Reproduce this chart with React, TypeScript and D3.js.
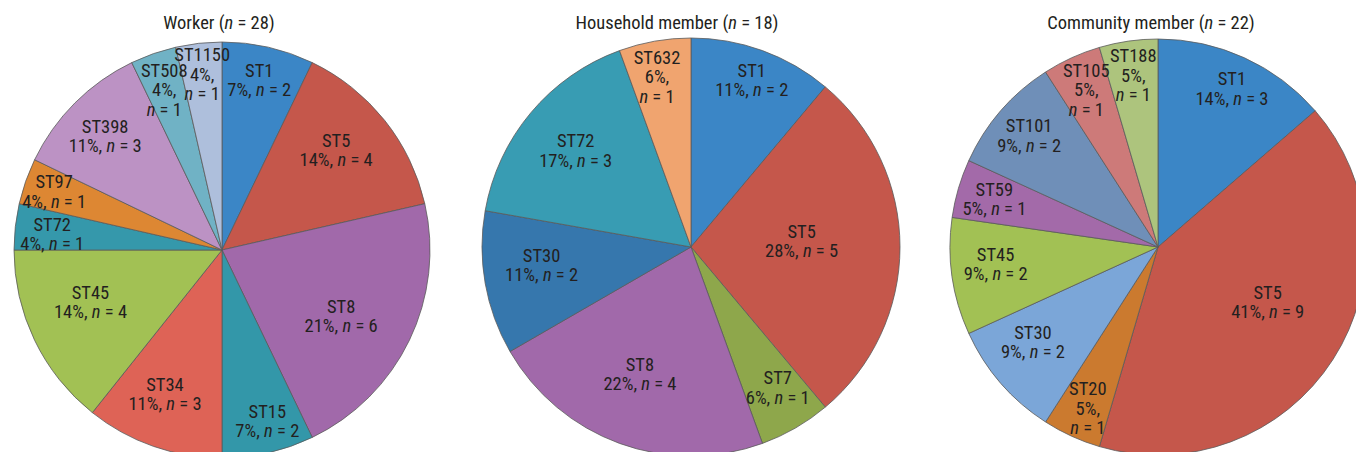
import React from 'react';
import * as d3 from 'd3';

// ---------- data ----------
const workerTitle = 'Worker';
const workerTotal = 28;
const workerTypes = ['ST1', 'ST5', 'ST8', 'ST15', 'ST34', 'ST45', 'ST72', 'ST97', 'ST398', 'ST508', 'ST1150'];
const workerCounts = [2, 4, 6, 2, 3, 4, 1, 1, 3, 1, 1];
const workerPct = [7, 14, 21, 7, 11, 14, 4, 4, 11, 4, 4];

const householdTitle = 'Household member';
const householdTotal = 18;
const householdTypes = ['ST1', 'ST5', 'ST7', 'ST8', 'ST30', 'ST72', 'ST632'];
const householdCounts = [2, 5, 1, 4, 2, 3, 1];
const householdPct = [11, 28, 6, 22, 11, 17, 6];

const communityTitle = 'Community member';
const communityTotal = 22;
const communityTypes = ['ST1', 'ST5', 'ST20', 'ST30', 'ST45', 'ST59', 'ST101', 'ST105', 'ST188'];
const communityCounts = [3, 9, 1, 2, 2, 1, 2, 1, 1];
const communityPct = [14, 41, 5, 9, 9, 5, 9, 5, 5];

// ---------- styles ----------
const workerColors = ['#3b86c6', '#c5574b', '#a169aa', '#3397a9', '#de6356', '#a2c154', '#3598ab', '#dd8733', '#bc92c4', '#70b2c5', '#aebfdc'];
const householdColors = ['#3b86c6', '#c5574b', '#8ea74b', '#a169aa', '#3677ad', '#389cb3', '#f0a46f'];
const communityColors = ['#3b86c6', '#c5574b', '#cb7a2f', '#7ba6d8', '#a2c154', '#a36aa9', '#6f8fb8', '#cd7a79', '#adc47d'];

const workerLabelR = [0.837, 0.73, 0.655, 0.85, 0.745, 0.68, 0.82, 0.855, 0.785, 0.82, 0.85];
const workerLabelShift = [-0.5, -2.7, 3.3, -2, 2.3, 4.1, -1, 0, -0.7, -0.5, 0];
const workerSplit = [false, false, false, false, false, false, false, false, false, true, true];

const householdLabelR = [0.85, 0.53, 0.79, 0.655, 0.72, 0.72, 0.83];
const householdLabelShift = [0, -3.1, -1.7, 1.9, 3.2, 0, -1.3];
const householdSplit = [false, false, false, false, false, false, true];

const communityLabelR = [0.84, 0.59, 0.845, 0.755, 0.785, 0.82, 0.82, 0.83, 0.835];
const communityLabelShift = [0.5, -6.1, -1, 3.7, 2.2, 0, 0, 0, 0];
const communitySplit = [false, false, true, false, false, false, false, true, true];

const FONT = "'Liberation Sans Narrow', 'Arial Narrow', 'Roboto Condensed', 'Liberation Sans', Arial, sans-serif";
const TEXT = '#231f20';
const FS = 18.5;
const LH = 19.5;

type PieSpec = {
  title: string;
  total: number;
  types: string[];
  counts: number[];
  pct: number[];
  colors: string[];
  labelR: number[];
  labelShift: number[];
  split: boolean[];
  cx: number;
  cy: number;
  r: number;
  titleX: number;
};

const pies: PieSpec[] = [
  { title: workerTitle, total: workerTotal, types: workerTypes, counts: workerCounts, pct: workerPct, colors: workerColors, labelR: workerLabelR, labelShift: workerLabelShift, split: workerSplit, cx: 222, cy: 250, r: 208, titleX: 219 },
  { title: householdTitle, total: householdTotal, types: householdTypes, counts: householdCounts, pct: householdPct, colors: householdColors, labelR: householdLabelR, labelShift: householdLabelShift, split: householdSplit, cx: 691, cy: 247, r: 209, titleX: 677 },
  { title: communityTitle, total: communityTotal, types: communityTypes, counts: communityCounts, pct: communityPct, colors: communityColors, labelR: communityLabelR, labelShift: communityLabelShift, split: communitySplit, cx: 1158, cy: 247, r: 208, titleX: 1151 },
];

function Pie({ spec }: { spec: PieSpec }) {
  const data = spec.counts.map((c, i) => ({ i, c }));
  const arcs = d3.pie<{ i: number; c: number }>().sort(null).value((d) => d.c)(data);
  const arcGen = d3.arc<d3.PieArcDatum<{ i: number; c: number }>>().innerRadius(0).outerRadius(spec.r);
  return (
    <g transform={`translate(${spec.cx},${spec.cy})`}>
      {arcs.map((a) => (
        <path key={a.index} d={arcGen(a) || ''} fill={spec.colors[a.data.i]} stroke="#5a5a5a" strokeWidth={0.8} strokeLinejoin="round" />
      ))}
      {arcs.map((a) => {
        const i = a.data.i;
        const ang = (a.startAngle + a.endAngle) / 2 + (spec.labelShift[i] * Math.PI) / 180;
        const rr = spec.r * spec.labelR[i];
        const x = rr * Math.sin(ang);
        const y = -rr * Math.cos(ang);
        const lines: React.ReactNode[] = [];
        lines.push(<tspan key="a">{spec.types[i]}</tspan>);
        if (spec.split[i]) {
          lines.push(<tspan key="b">{`${spec.pct[i]}%,`}</tspan>);
          lines.push(
            <tspan key="c">
              <tspan fontStyle="italic">n</tspan>
              {` = ${spec.counts[i]}`}
            </tspan>
          );
        } else {
          lines.push(
            <tspan key="b">
              {`${spec.pct[i]}%, `}
              <tspan fontStyle="italic">n</tspan>
              {` = ${spec.counts[i]}`}
            </tspan>
          );
        }
        const N = lines.length;
        return (
          <text key={'t' + i} textAnchor="middle" fontFamily={FONT} fontSize={FS} fill={TEXT}>
            {lines.map((ln, k) => (
              <tspan key={k} x={x} y={y + (k - (N - 1) / 2) * LH + 6.5}>
                {ln}
              </tspan>
            ))}
          </text>
        );
      })}
    </g>
  );
}

export default function App() {
  return (
    <svg
      width={1356}
      height={452}
      style={{ position: 'absolute', left: 0, top: 0, background: '#fff' }}
    >
      <rect x={0} y={0} width={1356} height={452} fill="#fff" />
      {pies.map((p, k) => (
        <g key={k}>
          <Pie spec={p} />
          <text x={p.titleX} y={29} textAnchor="middle" fontFamily={FONT} fontSize={FS} fill={TEXT}>
            {`${p.title} (`}
            <tspan fontStyle="italic">n</tspan>
            {` = ${p.total})`}
          </text>
        </g>
      ))}
    </svg>
  );
}
